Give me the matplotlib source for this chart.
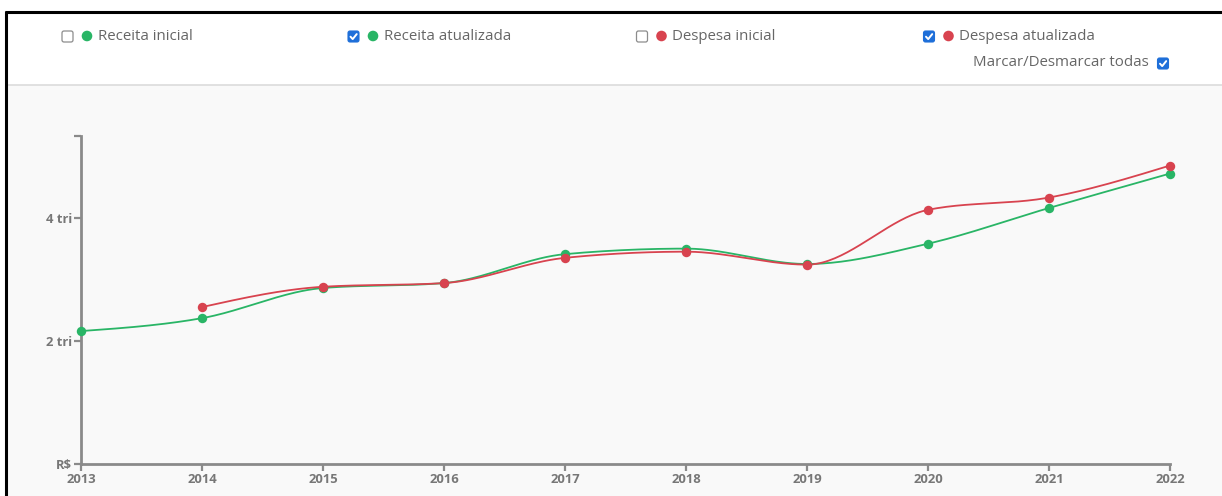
import numpy as np
import matplotlib
matplotlib.use("Agg")
import matplotlib.pyplot as plt
from matplotlib.patches import Rectangle, FancyBboxPatch, Circle

# ---- data (trillions of R$) ----
anos = [2013, 2014, 2015, 2016, 2017, 2018, 2019, 2020, 2021, 2022]
receita_atualizada = [2.16, 2.37, 2.86, 2.94, 3.41, 3.50, 3.25, 3.58, 4.16, 4.72]
anos_despesa = [2014, 2015, 2016, 2017, 2018, 2019, 2020, 2021, 2022]
despesa_atualizada = [2.55, 2.88, 2.94, 3.35, 3.45, 3.24, 4.13, 4.33, 4.85]
y_ticks = [0, 2, 4]
y_tick_labels = ["R$", "2 tri", "4 tri"]
y_max = 5.33

legend_items = ["Receita inicial", "Receita atualizada", "Despesa inicial", "Despesa atualizada"]
legend_checked = [False, True, False, True]

GREEN = "#29b566"
RED = "#d8434f"
BLUE = "#1e6fd9"
AXIS_GREY = "#8a8a8a"
TEXT_GREY = "#666666"

W, H = 1222, 496


def monotone_x(x, y, n=40):
    """Monotone cubic interpolation (Steffen), as used by d3.curveMonotoneX."""
    x = np.asarray(x, float)
    y = np.asarray(y, float)
    h = np.diff(x)
    s = np.diff(y) / h
    t = np.zeros_like(y)
    for i in range(1, len(x) - 1):
        p = (s[i - 1] * h[i] + s[i] * h[i - 1]) / (h[i - 1] + h[i])
        v = (np.sign(s[i - 1]) + np.sign(s[i])) * min(abs(s[i - 1]), abs(s[i]), 0.5 * abs(p))
        t[i] = v if v != 0 else 0.0
    t[0] = (3 * s[0] - t[1]) / 2
    t[-1] = (3 * s[-1] - t[-2]) / 2
    xs, ys = [], []
    for i in range(len(x) - 1):
        u = np.linspace(0, 1, n)
        h00 = 2 * u**3 - 3 * u**2 + 1
        h10 = u**3 - 2 * u**2 + u
        h01 = -2 * u**3 + 3 * u**2
        h11 = u**3 - u**2
        xs.append(x[i] + u * h[i])
        ys.append(h00 * y[i] + h10 * h[i] * t[i] + h01 * y[i + 1] + h11 * h[i] * t[i + 1])
    return np.concatenate(xs), np.concatenate(ys)


plt.rcParams["font.family"] = ["Open Sans", "DejaVu Sans"]

fig = plt.figure(figsize=(W / 100, H / 100), dpi=100, facecolor="white")

# ---- page decoration in pixel coordinates ----
deco = fig.add_axes([0, 0, 1, 1], zorder=0)
deco.set_xlim(0, W)
deco.set_ylim(H, 0)
deco.axis("off")

deco.add_patch(Rectangle((6, 85), W - 6, H - 85, facecolor="#f9f9f9", edgecolor="none"))
deco.plot([6, W], [84.5, 84.5], color="#dcdcdc", lw=1.2)
deco.plot([5, W], [12, 12], color="black", lw=2.2, solid_capstyle="butt")
deco.plot([5.5, 5.5], [11, H], color="black", lw=2.2, solid_capstyle="butt")


def checkbox(cx, cy, checked):
    size = 11
    if checked:
        deco.add_patch(FancyBboxPatch((cx - size / 2, cy - size / 2), size, size,
                                      boxstyle="round,pad=0,rounding_size=2",
                                      facecolor=BLUE, edgecolor=BLUE, lw=0.8))
        deco.plot([cx - 3, cx - 0.8, cx + 3.2], [cy + 0.2, cy + 2.6, cy - 2.4],
                  color="white", lw=1.4, solid_capstyle="round", solid_joinstyle="round")
    else:
        deco.add_patch(FancyBboxPatch((cx - size / 2, cy - size / 2), size, size,
                                      boxstyle="round,pad=0,rounding_size=2",
                                      facecolor="white", edgecolor="#8c8c8c", lw=0.9))


legend_x = [67.5, 353.5, 642, 929]
legend_colors = [GREEN, GREEN, RED, RED]
for x0, label, col, chk in zip(legend_x, legend_items, legend_colors, legend_checked):
    checkbox(x0, 36.5, chk)
    deco.add_patch(Circle((x0 + 19.5, 36), 5.3, facecolor=col, edgecolor="none"))
    deco.text(x0 + 30, 36, label, fontsize=10.8, color=TEXT_GREY, va="center", ha="left")

deco.text(1149, 63, "Marcar/Desmarcar todas", fontsize=10.8, color=TEXT_GREY,
          va="center", ha="right")
checkbox(1163, 63.5, True)

# ---- chart ----
x_left, x_right = 81, 1170
y_bottom, y_top = 464, 136
ax = fig.add_axes([x_left / W, 1 - y_bottom / H, (x_right - x_left) / W, (y_bottom - y_top) / H],
                  zorder=1)
ax.set_facecolor("none")
ax.set_xlim(anos[0], anos[-1])
ax.set_ylim(0, y_max)

for xs, ys, col in [(anos, receita_atualizada, GREEN), (anos_despesa, despesa_atualizada, RED)]:
    cx, cy = monotone_x(xs, ys)
    ax.plot(cx, cy, color=col, lw=1.3, clip_on=False, zorder=3)
    ax.plot(xs, ys, "o", color=col, ms=6.8, mec="none", clip_on=False, zorder=4)

for side in ["top", "right"]:
    ax.spines[side].set_visible(False)
for side in ["left", "bottom"]:
    ax.spines[side].set_color(AXIS_GREY)
    ax.spines[side].set_linewidth(2)

ax.set_xticks(anos)
ax.set_xticklabels([str(a) for a in anos])
ax.set_yticks(y_ticks + [y_max])
ax.set_yticklabels(y_tick_labels + [""])
ax.tick_params(axis="both", colors=AXIS_GREY, width=1.6, length=5, labelsize=9.4,
               labelcolor="#777777", pad=1.5)
for lbl in ax.get_xticklabels() + ax.get_yticklabels():
    lbl.set_fontweight("bold")

fig.savefig("out.png", dpi=100, facecolor="white")
